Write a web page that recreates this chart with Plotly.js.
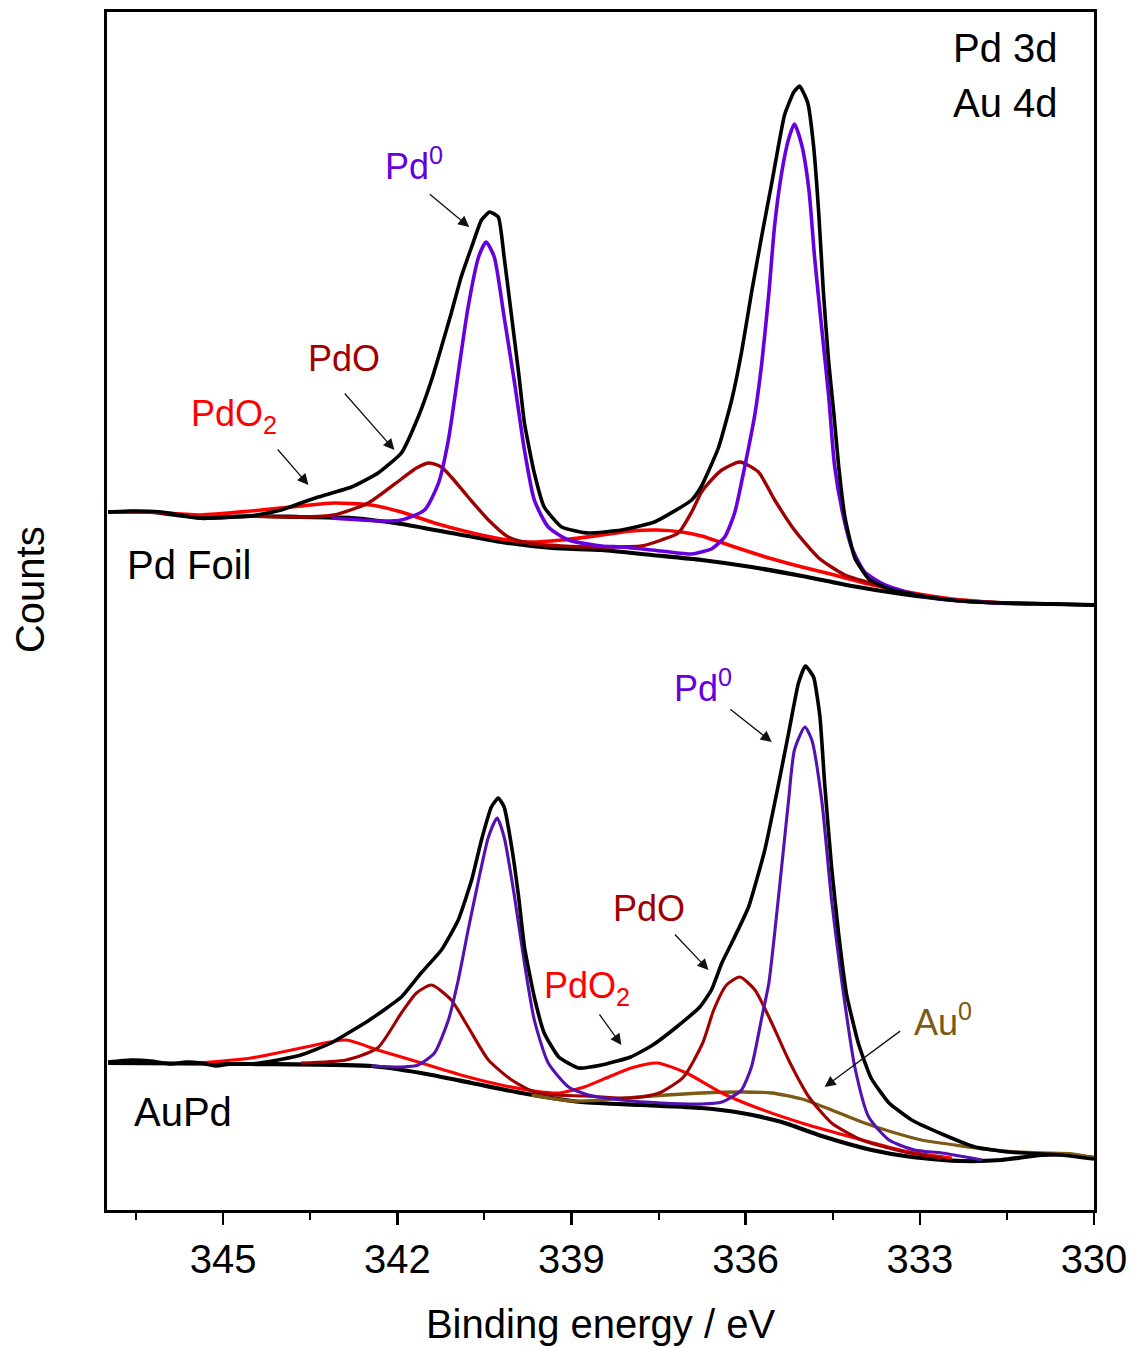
<!DOCTYPE html>
<html>
<head>
<meta charset="utf-8">
<script src="https://cdn.plot.ly/plotly-3.0.1.min.js"></script>
<style>html,body{margin:0;padding:0;background:#fff;}#chart{width:1131px;height:1348px;}</style>
</head>
<body>
<div id="chart"></div>
<script>
// ---------- Data (binding energy in eV, intensity in arbitrary counts) ----------
// Pd Foil (upper spectrum)
const foilBgE = [346.98,346.24,345.38,344.52,343.66,342.79,341.93,341.07,340.21,339.34,338.48,337.62,336.76,335.90,335.03,334.17,333.31,332.45,331.59,330.72,330.0];
const foilBgI = [698,698,692,694,693,692,686,677,668,662,660,655,650,643,634,624,616,610,607,606,605];

const foilEnvE = [346.98,346.59,346.07,345.38,344.86,344.52,344.00,343.66,343.36,342.79,342.33,341.93,341.64,341.41,341.24,341.07,340.90,340.72,340.55,340.41,340.26,340.16,340.03,339.91,339.81,339.64,339.47,339.17,338.71,338.14,337.57,336.93,336.76,336.47,336.24,336.07,335.90,335.72,335.55,335.33,335.17,335.07,334.93,334.83,334.74,334.66,334.57,334.48,334.40,334.29,334.12,333.88,333.53,332.97,332.28,331.59,330.72,330.0];
const foilEnvI = [698,699,698,692,693,694,700,707,713,723,737,757,793,830,863,897,933,963,990,998,993,953,893,837,787,737,703,683,677,680,688,710,724,762,810,858,917,975,1027,1095,1118,1124,1107,1064,996,917,848,796,745,693,652,631,621,614,609,607,606,605];

const foilPd0E = [343.14,342.28,341.93,341.53,341.29,341.12,340.95,340.78,340.60,340.47,340.33,340.16,339.98,339.81,339.64,339.40,339.05,338.48,338.14,337.45,336.93,336.76,336.59,336.36,336.19,336.07,335.95,335.84,335.72,335.60,335.50,335.38,335.26,335.16,335.03,334.91,334.81,334.69,334.57,334.47,334.34,334.17,333.95,333.60,332.97,332.28,331.59];
const foilPd0I = [692,689,690,700,727,770,837,903,953,968,953,893,827,760,710,683,670,664,663,659,656,658,661,673,697,728,762,796,848,917,985,1037,1071,1086,1064,1020,951,882,814,745,700,662,638,625,614,609,607];

const foilPdOE = [344.52,343.66,343.09,342.50,341.93,341.67,341.45,341.24,341.07,340.78,340.43,340.09,339.74,339.17,338.48,337.79,337.45,337.16,336.93,336.76,336.59,336.41,336.10,335.78,335.50,335.16,334.74,334.29,333.60,332.97];
const foilPdOI = [694,693,695,707,731,742,747,743,733,713,690,673,667,664,663,664,670,677,698,718,730,740,748,738,710,680,652,635,623,614];

const foilPdO2E = [346.98,346.24,345.38,344.52,343.66,343.09,342.45,341.93,341.36,340.78,340.21,339.74,339.17,338.48,337.97,337.53,337.10,336.76,336.19,335.60,335.03,334.47,333.88,333.31,332.45,331.59];
const foilPdO2I = [698,698,695,699,704,707,705,698,687,678,671,668,670,675,679,680,678,674,663,652,643,635,626,619,611,607];

// AuPd (lower spectrum)
const aupdBgE = [346.98,344.52,342.45,341.59,340.72,339.86,338.83,337.79,336.76,336.07,335.38,334.69,333.83,333.14,332.28,331.59,330.90,330.38,330.0];
const aupdBgI = [147,146,144,137,127,117,108,105,102,97,88,74,60,53,49,50,55,55,52];

const aupdEnvE = [346.98,346.59,346.24,345.90,345.64,345.38,345.12,344.86,344.52,344.26,343.66,343.14,342.48,341.93,341.59,341.24,340.95,340.72,340.55,340.38,340.26,340.16,340.03,339.91,339.81,339.64,339.47,339.22,338.88,338.48,337.98,337.60,337.19,336.79,336.59,336.41,336.24,335.95,335.67,335.43,335.26,335.09,334.97,334.83,334.72,334.64,334.52,334.40,334.26,334.05,333.84,333.53,333.14,332.62,332.05,331.47,330.88,330.55,330.0];
const aupdEnvI = [148,150,149,146,148,147,144,146,146,148,155,167,190,213,237,260,290,330,370,403,412,403,363,313,263,213,177,153,142,145,153,165,183,203,220,247,267,303,360,427,477,527,544,533,493,427,343,277,215,165,132,107,90,76,63,58,56,55,51];

const aupdPd0E = [342.45,341.93,341.64,341.36,341.12,340.95,340.78,340.60,340.43,340.28,340.16,339.98,339.81,339.64,339.40,339.05,338.71,338.14,337.45,336.76,336.41,336.24,336.07,335.90,335.72,335.60,335.50,335.38,335.26,335.16,334.98,334.86,334.69,334.52,334.34,334.12,333.88,333.53,333.09,332.62,331.93];
const aupdPd0I = [144,143,145,157,190,230,280,330,373,392,373,313,247,190,147,123,115,110,107,106,108,113,120,143,193,227,277,343,410,460,483,470,410,310,227,143,93,70,60,57,50];

const aupdPdOE = [343.66,342.88,342.34,341.93,341.67,341.41,341.07,340.78,340.43,340.03,339.64,339.29,338.78,338.14,337.79,337.45,337.07,336.74,336.55,336.33,336.10,335.84,335.55,335.26,334.91,334.52,334.00,333.26,332.62];
const aupdPdOI = [147,150,162,197,217,225,210,183,150,130,118,115,114,112,113,118,133,167,200,225,233,220,187,150,113,87,70,58,52];

const aupdPdO2E = [345.45,344.52,343.66,342.88,342.34,341.93,341.36,340.78,340.21,339.64,339.22,338.78,338.36,337.97,337.52,337.02,336.41,335.84,334.98,334.12,333.26,332.45];
const aupdPdO2I = [147,152,162,170,160,153,143,133,125,119,117,123,133,142,147,137,117,103,86,72,59,52];

const aupdAuE = [339.69,339.00,338.48,337.62,336.76,336.07,335.55,335.03,334.52,334.00,333.48,332.97,332.28,331.59,330.90,330.38,330.0];
const aupdAuI = [115,109,110,114,117,118,117,111,100,88,78,70,64,59,57,56,52];

// Tick labels
const tickVals = [345,342,339,336,333,330];
const tickText = ['345','342','339','336','333','330'];

// ---------- Styling ----------
const FONT = 'Liberation Sans, Arial, sans-serif';
const C_PD0 = '#6600DD';
const C_PD0_B = '#5312B0';
const C_PDO = '#A00000';
const C_PDO2 = '#FF0000';
const C_AU = '#7A5A14';

function tr(x, y, color, width, smoothing) {
  return {x: x, y: y, type: 'scatter', mode: 'lines', hoverinfo: 'skip',
          line: {color: color, width: width, shape: 'spline', smoothing: smoothing || 0.6}};
}

const traces = [
  tr(foilBgE, foilBgI, '#000', 4.2),
  tr(foilPdO2E, foilPdO2I, C_PDO2, 3.6),
  tr(foilPdOE, foilPdOI, C_PDO, 3.4),
  tr(foilPd0E, foilPd0I, C_PD0, 3.6),
  tr(foilEnvE, foilEnvI, '#000', 3.6, 0.45),
  tr(aupdBgE, aupdBgI, '#000', 4.2),
  tr(aupdAuE, aupdAuI, C_AU, 3.3),
  tr(aupdPdO2E, aupdPdO2I, C_PDO2, 3.1),
  tr(aupdPdOE, aupdPdOI, C_PDO, 3.1),
  tr(aupdPd0E, aupdPd0I, C_PD0_B, 3.1),
  tr(aupdEnvE, aupdEnvI, '#000', 3.6, 0.45)
];

function label(x, y, text, color, size, xanchor) {
  return {x: x, y: y, xref: 'x', yref: 'y', text: text, showarrow: false,
          xanchor: xanchor || 'center', yanchor: 'middle',
          font: {family: FONT, size: size, color: color}};
}
function arrow(x, y, ax, ay) {
  return {x: x, y: y, xref: 'x', yref: 'y', ax: ax, ay: ay, text: '', showarrow: true,
          arrowhead: 2, arrowsize: 1.7, arrowwidth: 1.3, arrowcolor: '#111', standoff: 0, startstandoff: 0};
}

const annotations = [
  label(330.59, 1162, 'Pd 3d', '#000', 40, 'right'),
  label(330.59, 1107, 'Au 4d', '#000', 40, 'right'),
  label(346.69, 645, 'Pd Foil', '#000', 40, 'left'),
  label(346.57, 98, 'AuPd', '#000', 40, 'left'),
  label(341.71, 1046, 'Pd<sup>0</sup>', C_PD0, 36),
  label(342.91, 852, 'PdO', C_PDO, 36),
  label(344.81, 794, 'PdO<sub>2</sub>', C_PDO2, 36),
  label(336.74, 524, 'Pd<sup>0</sup>', C_PD0, 36),
  label(337.66, 302, 'PdO', C_PDO, 36),
  label(338.74, 222, 'PdO<sub>2</sub>', C_PDO2, 36),
  label(332.60, 190, 'Au<sup>0</sup>', C_AU, 36),
  arrow(340.76, 983, -41, -34),
  arrow(342.05, 760, -51, -58),
  arrow(343.53, 725, -32, -37),
  arrow(335.55, 468, -43, -34),
  arrow(336.64, 240, -35, -37),
  arrow(338.14, 165, -23, -32),
  arrow(334.64, 123, 77, -57),
  {xref: 'paper', yref: 'paper', x: -0.078, y: 0.5175, text: 'Counts', textangle: -90,
   showarrow: false, xanchor: 'center', yanchor: 'middle', font: {family: FONT, size: 40, color: '#000'}}
];

const layout = {
  width: 1131, height: 1348,
  margin: {l: 107, r: 37, t: 12, b: 138},
  paper_bgcolor: '#fff', plot_bgcolor: '#fff',
  showlegend: false,
  font: {family: FONT, color: '#000'},
  xaxis: {
    range: [347, 330], tickmode: 'array', tickvals: tickVals, ticktext: tickText,
    ticks: 'outside', ticklen: 12, tickwidth: 2.5, tickcolor: '#000',
    ticklabelstandoff: 0,
    minor: {tickmode: 'linear', tick0: 330, dtick: 1.5, ticks: 'outside', ticklen: 7, tickwidth: 2, tickcolor: '#000', showgrid: false},
    tickfont: {family: FONT, size: 40, color: '#000'},
    showgrid: false, zeroline: false, showline: true, linewidth: 3, linecolor: '#000', mirror: true,
    title: {text: 'Binding energy / eV', font: {family: FONT, size: 40, color: '#000'}, standoff: 30}
  },
  yaxis: {
    range: [0, 1198], showticklabels: false, ticks: '', showgrid: false, zeroline: false,
    showline: true, linewidth: 3, linecolor: '#000', mirror: true
  },
  annotations: annotations
};

Plotly.newPlot('chart', traces, layout, {displayModeBar: false, staticPlot: true});
</script>
</body>
</html>
